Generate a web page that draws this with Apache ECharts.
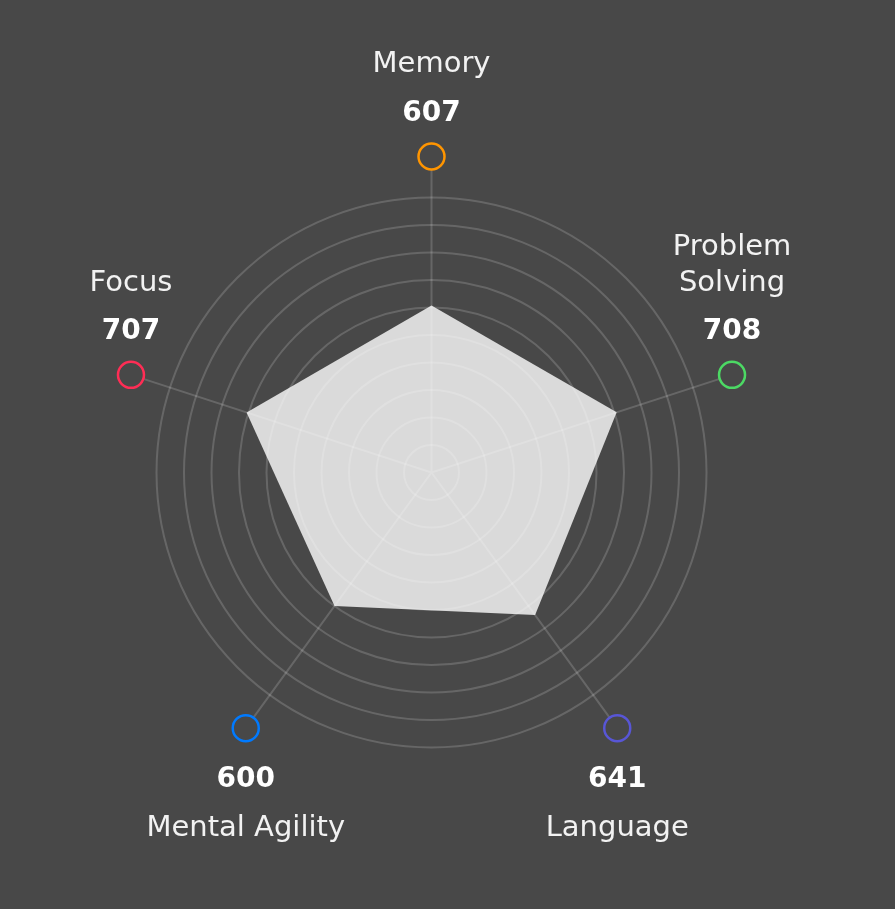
<!DOCTYPE html>
<html>
<head>
<meta charset="utf-8">
<script src="https://cdn.jsdelivr.net/npm/echarts@6/dist/echarts.min.js"></script>
<style>
html,body{margin:0;padding:0;background:#484848;}
#chart{width:895px;height:909px;}
</style>
</head>
<body>
<div id="chart"></div>
<script>
// Indicators in counter-clockwise order starting at the top
var categories = ['Memory', 'Focus', 'Mental Agility', 'Language', 'Problem Solving'];
var nameLines = [['Memory'], ['Focus'], ['Mental Agility'], ['Language'], ['Problem', 'Solving']];
var scores = [607, 707, 600, 641, 708];
var markerColors = ['#FF9500', '#FF2D55', '#007AFF', '#5856D6', '#4CD964'];
var AXIS_MAX = 1000;
var SPLITS = 10;

var BG = '#484848';
var FONT = 'DejaVu Sans';
var CENTER = [431.5, 472.5];

var chart = echarts.init(document.getElementById('chart'), null, {renderer: 'canvas'});

var indicators = categories.map(function (c) { return {name: c, min: 0, max: AXIS_MAX}; });

var markerData = categories.map(function (c, i) {
  var ang = (90 + i * 72) * Math.PI / 180;
  var top = Math.sin(ang) > 0.01 || i === 0;
  var nameTxt = nameLines[i].map(function (l) { return '{n|' + l + '}'; }).join('\n');
  var txt = top ? nameTxt + '\n{v|' + scores[i] + '}' : '{v|' + scores[i] + '}\n' + nameTxt;
  return {
    value: [AXIS_MAX, i],
    itemStyle: {color: BG, borderColor: markerColors[i], borderWidth: 2.5, opacity: 1},
    label: {
      show: true,
      position: top ? 'top' : 'bottom',
      distance: top ? -2.5 : 6,
      formatter: txt
    }
  };
});

var option = {
  backgroundColor: BG,
  animation: false,
  radar: [
    {
      center: CENTER, radius: 275, startAngle: 90, shape: 'circle', splitNumber: SPLITS,
      indicator: indicators,
      axisName: {show: false}, axisLine: {show: false}, axisTick: {show: false},
      axisLabel: {show: false}, splitLine: {show: false}, splitArea: {show: false}
    },
    {
      center: CENTER, radius: 275, startAngle: 90, shape: 'circle', splitNumber: SPLITS, z: 3,
      indicator: indicators,
      axisName: {show: false}, axisLine: {show: false}, axisTick: {show: false}, axisLabel: {show: false},
      splitLine: {show: true, lineStyle: {color: 'rgba(255,255,255,0.17)', width: 2}},
      splitArea: {show: false}
    }
  ],
  polar: {center: CENTER, radius: 316},
  angleAxis: {
    type: 'category', data: categories, startAngle: 90, clockwise: false, boundaryGap: false, z: 3,
    axisLine: {show: false}, axisTick: {show: false}, axisLabel: {show: false, interval: 0},
    splitLine: {show: true, interval: 0, lineStyle: {color: 'rgba(255,255,255,0.17)', width: 2}}
  },
  radiusAxis: {
    type: 'value', min: 0, max: AXIS_MAX, show: false,
    axisLine: {show: false}, axisTick: {show: false}, axisLabel: {show: false}, splitLine: {show: false}
  },
  series: [
    {
      type: 'radar', radarIndex: 0, z: 2, symbol: 'none',
      lineStyle: {width: 0},
      areaStyle: {color: '#dadada', opacity: 1},
      data: [{value: scores}]
    },
    {
      type: 'scatter', coordinateSystem: 'polar', z: 5, symbol: 'circle', symbolSize: 26,
      itemStyle: {opacity: 1},
      label: {
        rich: {
          n: {fontFamily: FONT, fontSize: 29, fontWeight: 400, color: '#f2f2f2', lineHeight: 36, align: 'center'},
          v: {fontFamily: FONT, fontSize: 28, fontWeight: 600, color: '#ffffff', lineHeight: 62, align: 'center'}
        }
      },
      data: markerData
    }
  ]
};
chart.setOption(option);
</script>
</body>
</html>
